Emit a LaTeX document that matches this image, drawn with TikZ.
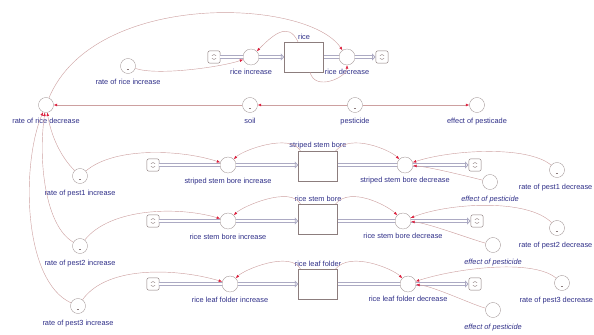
\documentclass[tikz,border=0pt]{standalone}
\usepackage{fontspec}
\setmainfont{Liberation Sans}
\usetikzlibrary{positioning,arrows.meta}
\definecolor{linkclr}{RGB}{205,160,160}
\definecolor{arrowred}{RGB}{220,30,60}
\definecolor{txtclr}{RGB}{45,45,135}
\definecolor{pipeclr}{RGB}{172,170,195}
\definecolor{shapeclr}{RGB}{140,125,125}
\tikzset{
  conv/.style={circle, draw=shapeclr, fill=white, minimum size=0.75cm, inner sep=0pt},
  gconv/.style={conv, path picture={\draw[shapeclr] ([shift={(-1.5pt,-4pt)}]path picture bounding box.center) -- +(3pt,0);}},
  valve/.style={circle, draw=shapeclr, fill=white, minimum size=0.8cm, inner sep=0pt},
  stock/.style={draw=shapeclr, fill=white, minimum width=1.95cm, minimum height=1.5cm, inner sep=0pt},
  cloud/.style={draw=shapeclr, line width=0.6pt, rounded corners=3pt, minimum size=0.62cm, inner sep=0pt,
    path picture={\draw[shapeclr] ([shift={(-3pt,2pt)}]path picture bounding box.center) to[bend left=60] ([shift={(3pt,2pt)}]path picture bounding box.center)
      ([shift={(-3pt,-2pt)}]path picture bounding box.center) to[bend right=60] ([shift={(3pt,-2pt)}]path picture bounding box.center);}},
  lbl/.style={text=txtclr, font=\fontsize{10.5}{12}\selectfont, inner sep=1pt},
  ilbl/.style={lbl, font=\fontsize{10.5}{12}\selectfont\itshape},
  link/.style={draw=linkclr, line width=0.6pt, -{Latex[length=5pt,width=4pt,color=arrowred]}},
  pipe/.style={draw=pipeclr, line width=1.2pt, double=white, double distance=3pt},
  pipeend/.style={pipe, -{Triangle[open,length=5pt,width=10pt]}},
}
\begin{document}
\begin{tikzpicture}[x=0.05cm, y=-0.05cm]
  \useasboundingbox (0,0) rectangle (594,334);
  %riso
  \node[cloud] (rsrc) at (214,57) {};
  \node[valve] (rinc) at (251,57) {};
  \node[stock] (rice) at (304,57) {};
  \node[valve] (rdec) at (347,57) {};
  \node[cloud] (rsnk) at (382,57) {};
  \draw[pipe] (rsrc) -- (rinc);
  \draw[pipeend] (rinc) -- (rice);
  \draw[pipe] (rice) -- (rdec);
  \draw[pipeend] (rdec) -- (rsnk);
  \node[lbl, above=2pt of rice] (ricel) {rice};
  \node[lbl, below=4pt of rinc] (rincl) {rice increase};
  \node[lbl, below=4pt of rdec] (rdecl) {rice decrease};
  \node[gconv] (rri) at (128,66) {};
  \node[lbl, below=7pt of rri] (rril) {rate of rice increase};
  \node[conv] (rrd) at (46,105) {};
  \node[lbl, below=6pt of rrd] (rrdl) {rate of rice decrease};
  \node[gconv] (soil) at (250,105) {};
  \node[lbl, below=6pt of soil] (soill) {soil};
  \node[gconv] (pest) at (355,105) {};
  \node[lbl, below=6pt of pest] (pestl) {pesticide};
  \node[conv] (eff) at (477,105) {};
  \node[lbl, below=6pt of eff] (effl) {effect of pesticade};
  \draw[link] (rri) .. controls +(30,10) and +(-30,10) .. (rinc);
  \draw[link] ([xshift=-0.3cm]rice.north) .. controls +(-10,-22) and +(20,-20) .. (rinc);
  \draw[link] ([xshift=0.3cm]rice.south) .. controls +(5,20) and +(0,20) .. (rdec);
  \draw[link] (rrd) .. controls +(48,-115) and +(-40,-59) .. (rdec);
  \draw[link] (soil) -- (rrd);
  \draw[link] (pest) -- (soil);
  \draw[link] (pest) -- (eff);
  %parassita 1
  \node[cloud] (src1) at (153,165) {};
  \node[valve] (inc1) at (228,165) {};
  \node[stock] (ssb) at (318,166) {};
  \node[valve] (dec1) at (405,165) {};
  \node[cloud] (snk1) at (475,165) {};
  \draw[pipe] (src1) -- (inc1);
  \draw[pipeend] (inc1) -- (inc1 -| ssb.west);
  \draw[pipe] (ssb.east |- dec1) -- (dec1);
  \draw[pipeend] (dec1) -- (snk1);
  \node[lbl, above=2pt of ssb] (ssbl) {striped stem bore};
  \node[lbl, below=6pt of inc1] (inc1l) {striped stem bore increase};
  \node[lbl, below=5pt of dec1] (dec1l) {striped stem bore decrease};
  \node[gconv] (rpi1) at (80,176) {};
  \node[lbl, below=7.5pt of rpi1] (rpi1l) {rate of pest1 increase};
  \node[gconv] (rpd1) at (557,170) {};
  \node[lbl, below=7.5pt of rpd1, xshift=-2pt] (rpd1l) {rate of pest1 decrease};
  \node[conv] (eff1) at (490,182) {};
  \node[ilbl, below=7.5pt of eff1] (eff1l) {effect of pesticide};
  \draw[link] (rpi1) .. controls +(-20,-20) and +(5,30) .. (rrd);
  \draw[link] (rpi1) .. controls +(35,-30) and +(-45,-15) .. (inc1);
  \draw[link] ([xshift=0.1cm]ssb.north west) .. controls +(-10,-18) and +(15,-15) .. (inc1);
  \draw[link] ([xshift=-0.1cm]ssb.north east) .. controls +(15,-18) and +(-15,-15) .. (dec1);
  \draw[link] (rpd1) .. controls +(-30,-25) and +(45,-15) .. (dec1);
  \draw[link] (eff1) .. controls +(-20,-5) and +(25,2) .. (dec1);
  %parassita 2
  \node[cloud] (src2) at (153,221) {};
  \node[valve] (inc2) at (228,221) {};
  \node[stock] (rsb) at (318,219) {};
  \node[valve] (dec2) at (403,221) {};
  \node[cloud] (snk2) at (477,221) {};
  \draw[pipe] (src2) -- (inc2);
  \draw[pipeend] (inc2) -- (inc2 -| rsb.west);
  \draw[pipe] (rsb.east |- dec2) -- (dec2);
  \draw[pipeend] (dec2) -- (snk2);
  \node[lbl, above=2pt of rsb] (rsbl) {rice stem bore};
  \node[lbl, below=6pt of inc2] (inc2l) {rice stem bore increase};
  \node[lbl, below=5pt of dec2] (dec2l) {rice stem bore decrease};
  \node[gconv] (rpi2) at (80,246) {};
  \node[lbl, below=7.5pt of rpi2] (rpi2l) {rate of pest2 increase};
  \node[gconv] (rpd2) at (557,228) {};
  \node[lbl, below=7.5pt of rpd2, xshift=-2pt] (rpd2l) {rate of pest2 decrease};
  \node[conv] (eff2) at (493,245) {};
  \node[ilbl, below=7.5pt of eff2] (eff2l) {effect of pesticide};
  \draw[link] (rpi2) .. controls +(-35,-20) and +(-8,55) .. (rrd);
  \draw[link] (rpi2) .. controls +(30,-38) and +(-50,-15) .. (inc2);
  \draw[link] ([xshift=0.1cm]rsb.north west) .. controls +(-10,-18) and +(15,-15) .. (inc2);
  \draw[link] ([xshift=-0.1cm]rsb.north east) .. controls +(15,-18) and +(-15,-15) .. (dec2);
  \draw[link] (rpd2) .. controls +(-30,-30) and +(45,-18) .. (dec2);
  \draw[link] (eff2) .. controls +(-20,-5) and +(25,2) .. (dec2);
  %parassita 3
  \node[cloud] (src3) at (153,284) {};
  \node[valve] (inc3) at (230,284) {};
  \node[stock] (rlf) at (318,284) {};
  \node[valve] (dec3) at (408,284) {};
  \node[cloud] (snk3) at (475,284) {};
  \draw[pipe] (src3) -- (inc3);
  \draw[pipeend] (inc3) -- (rlf);
  \draw[pipe] (rlf) -- (dec3);
  \draw[pipeend] (dec3) -- (snk3);
  \node[lbl, above=2pt of rlf] (rlfl) {rice leaf folder};
  \node[lbl, below=6pt of inc3] (inc3l) {rice leaf folder increase};
  \node[lbl, below=5pt of dec3] (dec3l) {rice leaf folder decrease};
  \node[gconv] (rpi3) at (78,306) {};
  \node[lbl, below=7.5pt of rpi3] (rpi3l) {rate of pest3 increase};
  \node[gconv] (rpd3) at (562,283) {};
  \node[lbl, below=7.5pt of rpd3, xshift=-8pt] (rpd3l) {rate of pest3 decrease};
  \node[conv] (eff3) at (493,310) {};
  \node[ilbl, below=7.5pt of eff3] (eff3l) {effect of pesticide};
  \draw[link] (rpi3) .. controls +(-55,-25) and +(-25,60) .. (rrd);
  \draw[link] (rpi3) .. controls +(30,-42) and +(-50,-15) .. (inc3);
  \draw[link] ([xshift=0.1cm]rlf.north west) .. controls +(-10,-18) and +(15,-15) .. (inc3);
  \draw[link] ([xshift=-0.1cm]rlf.north east) .. controls +(15,-18) and +(-15,-15) .. (dec3);
  \draw[link] (rpd3) .. controls +(-30,-25) and +(45,-15) .. (dec3);
  \draw[link] (eff3) .. controls +(-20,-5) and +(25,2) .. (dec3);
\end{tikzpicture}
\end{document}
